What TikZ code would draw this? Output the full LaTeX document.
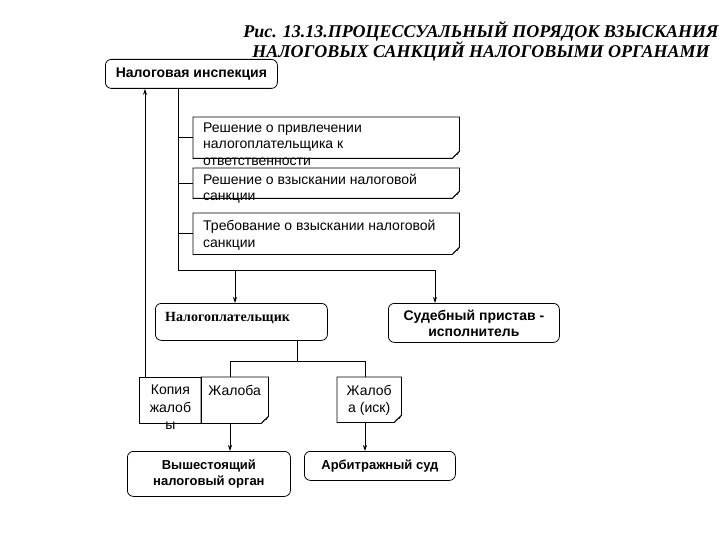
\documentclass[tikz,border=0pt]{standalone}
\usepackage{fontspec}
\setmainfont{Liberation Serif}
\setsansfont{Liberation Sans}
\usetikzlibrary{arrows.meta,calc}

\newcommand\docoutline[1]{%
  \draw[line] (#1.north west) -- (#1.north east) -- ([yshift=7pt]#1.south east)
     -- ([xshift=-7pt]#1.south east) -- (#1.south west) -- cycle;
  \filldraw[line width=0.5pt, fill=gray!60] ([yshift=7pt]#1.south east) -- ([xshift=-7pt]#1.south east)
     .. controls ([xshift=-4pt,yshift=4pt]#1.south east) .. ([xshift=-2pt,yshift=4pt]#1.south east) -- cycle;
}

\tikzset{
  line/.style={draw=black, line width=0.8pt},
  arr/.style={line, -{Stealth[length=6pt,width=4pt]}},
  rbox/.style={draw, line width=0.8pt, rounded corners=6pt, anchor=north west, inner sep=0pt, align=center},
  plainbox/.style={anchor=north west, inner sep=0pt},
  bsans/.style={font=\sffamily\bfseries\fontsize{14}{16}\selectfont},
  bsanss/.style={font=\sffamily\bfseries\fontsize{13}{16}\selectfont},
  rsans/.style={font=\sffamily\fontsize{14}{16.5}\selectfont, align=left, inner sep=0pt},
  csans/.style={font=\sffamily\fontsize{14}{17.5}\selectfont, align=center, inner sep=0pt},
}

\begin{document}
\begin{tikzpicture}[x=1pt,y=-1pt]
\useasboundingbox (0,0) rectangle (720,540);

% title
\node[font=\bfseries\itshape\fontsize{18}{20}\selectfont, align=center] (title) at (481,41)
  {Рис. 13.13.ПРОЦЕССУАЛЬНЫЙ ПОРЯДОК ВЗЫСКАНИЯ\\НАЛОГОВЫХ САНКЦИЙ НАЛОГОВЫМИ ОРГАНАМИ};

% top box
\node[rbox, bsans, minimum width=172pt, minimum height=29pt] (insp) at (105,59) {Налоговая инспекция};

% documents
\node[plainbox, minimum width=266pt, minimum height=41pt] (d1) at (193,117) {};
\node[plainbox, minimum width=266pt, minimum height=30pt] (d2) at (193,168) {};
\node[plainbox, minimum width=266pt, minimum height=41pt] (d3) at (193,213) {};
\docoutline{d1}
\docoutline{d2}
\docoutline{d3}
\node[rsans, anchor=north west] (t1) at ([xshift=10pt,yshift=-5.5pt]d1.north west)
  {Решение о привлечении\\налогоплательщика к\\ответственности};
\node[rsans, anchor=north west] (t2) at ([xshift=10pt,yshift=-5.5pt]d2.north west)
  {Решение о взыскании налоговой\\санкции};
\node[rsans, anchor=north west] (t3) at ([xshift=10pt,yshift=-7pt]d3.north west)
  {Требование о взыскании налоговой\\санкции};

% second level
\node[rbox, minimum width=172pt, minimum height=37pt] (payer) at (155,303) {};
\node[font=\bfseries\fontsize{14}{16}\selectfont, anchor=west, inner sep=0pt] (payert) at ([xshift=10pt,yshift=-15pt]payer.north west) {Налогоплательщик};
\node[rbox, bsans, minimum width=171pt, minimum height=39pt] (bail) at (388,303) {Судебный пристав -\\исполнитель};

% complaints
\node[plainbox, draw, line width=0.8pt, minimum width=62pt, minimum height=46pt] (copy) at (139,377) {};
\node[plainbox, minimum width=67pt, minimum height=46pt] (compl) at (201,377) {};
\node[plainbox, minimum width=64pt, minimum height=45pt] (suit) at (337,377) {};
\docoutline{compl}
\docoutline{suit}
\node[csans, anchor=north] (copyt) at ([yshift=-8pt]copy.north) {Копия\\жалоб\\ы};
\node[csans, anchor=north] (complt) at ([yshift=-8pt]compl.north) {Жалоба};
\node[csans, anchor=north] (suitt) at ([yshift=-8pt]suit.north) {Жалоб\\а (иск)};

% bottom
\node[rbox, bsanss, minimum width=163pt, minimum height=45pt] (higher) at (127,451) {Вышестоящий\\налоговый орган};
\node[rbox, bsanss, minimum width=151pt, minimum height=29pt] (arb) at (304,451) {Арбитражный суд};

% connectors
\coordinate (trunk) at (178,88);
\coordinate (j1) at (178,270);
\coordinate (jp) at (235,270);
\coordinate (jb) at (435,270);
\draw[line] (trunk) -- (j1) -- (jb);
\draw[line] (d1.west -| j1) -- (d1.west);
\draw[line] (d2.west -| j1) -- (d2.west);
\draw[line] (d3.west -| j1) -- (d3.west);
\draw[arr] (jp) -- (jp |- payer.north);
\draw[arr] (jb) -- (jb |- bail.north);

\coordinate (pb) at (297,340);
\coordinate (j2) at (297,361);
\coordinate (jc) at (230,361);
\coordinate (js) at (365,361);
\draw[line] (pb) -- (j2);
\draw[line] (jc |- compl.north) -- (jc) -- (js) -- (js |- suit.north);

\coordinate (cp) at (145,377);
\draw[arr] (cp) -- (cp |- insp.south);
\draw[arr] (jc |- compl.south) -- (jc |- higher.north);
\draw[arr] (js |- suit.south) -- (js |- arb.north);
\end{tikzpicture}
\end{document}
